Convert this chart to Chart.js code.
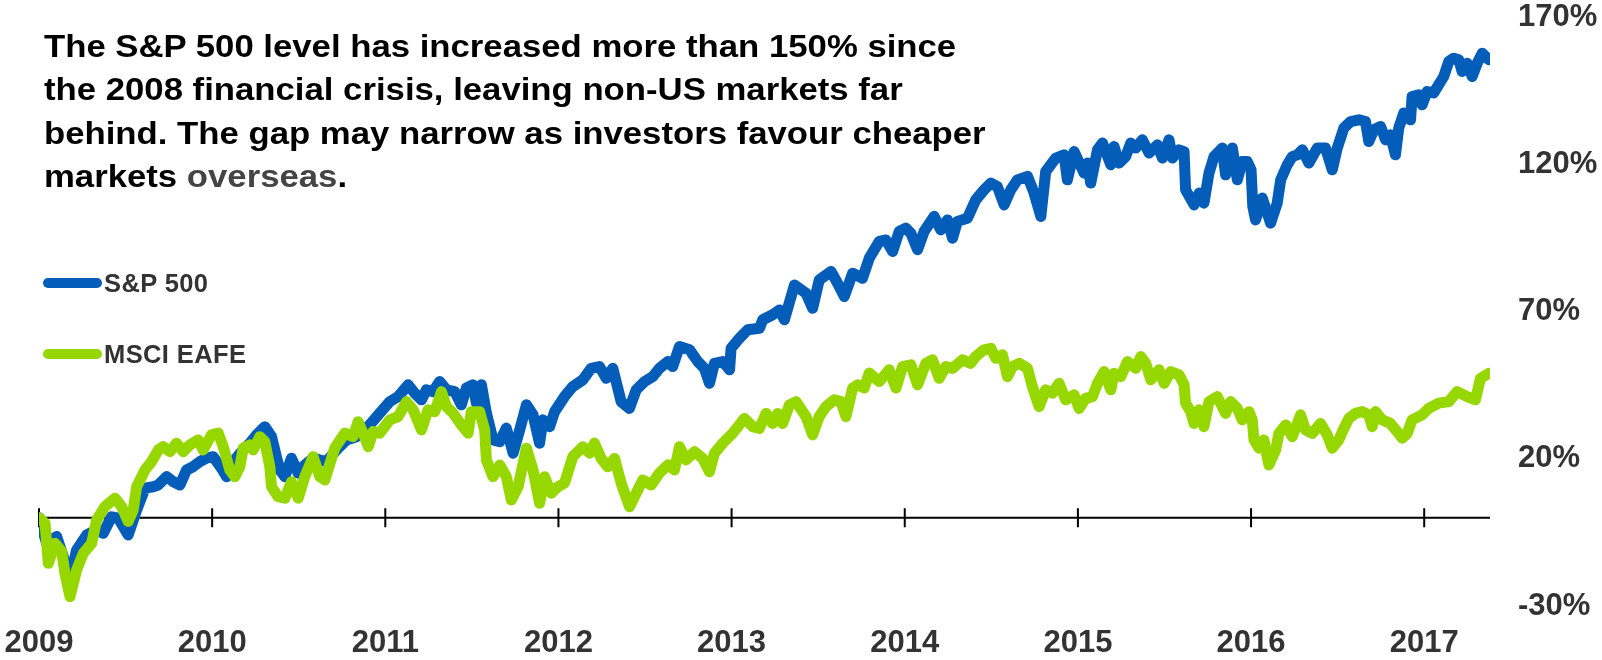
<!DOCTYPE html>
<html>
<head>
<meta charset="utf-8">
<script src="https://cdn.jsdelivr.net/npm/chart.js@4/dist/chart.umd.min.js"></script>
<style>
  html, body { margin:0; padding:0; background:#fff; }
  #wrap { position:relative; width:1602px; height:660px; font-family:"Liberation Sans", Arial, sans-serif; }
  #chart { position:absolute; left:0; top:0; }
  .headline {
    position:absolute; left:44px; top:24.7px; white-space:nowrap;
    font-weight:bold; font-size:31px; line-height:43.6px; color:#000;
    transform:scaleX(1.12); transform-origin:0 0;
  }
  .headline .muted { color:#444; }
  .key {
    position:absolute; left:43px; display:flex; align-items:center;
    font-weight:bold; font-size:25.5px; line-height:26px; letter-spacing:.4px; color:#333;
  }
  .key i { display:block; width:59px; height:10px; border-radius:5px; margin-right:2px; }
</style>
</head>
<body>
<div id="wrap">
  <canvas id="chart" width="1602" height="660"></canvas>
  <div class="headline">
    The S&amp;P 500 level has increased more than 150% since<br>
    the 2008 financial crisis, leaving non-US markets far<br>
    behind. The gap may narrow as investors favour cheaper<br>
    markets <span class="muted">overseas</span>.
  </div>
  <div class="key" style="top:270.3px"><i style="background:#035DB9"></i>S&amp;P 500</div>
  <div class="key" style="top:341.3px"><i style="background:#97D700"></i>MSCI EAFE</div>
</div>
<script>
// ── series (cumulative % change since start of 2009) ──
const spxYears = [
  2009.000,2009.044,2009.102,2009.140,2009.175,2009.217,2009.275,2009.333,2009.371,2009.419,
  2009.458,2009.515,2009.564,2009.612,2009.660,2009.689,2009.737,2009.775,2009.814,2009.852,
  2009.890,2009.929,2009.967,2010.006,2010.054,2010.083,2010.121,2010.179,2010.218,2010.256,
  2010.304,2010.343,2010.371,2010.391,2010.420,2010.458,2010.497,2010.535,2010.583,2010.660,
  2010.718,2010.776,2010.833,2010.910,2010.968,2011.026,2011.074,2011.132,2011.170,2011.209,
  2011.237,2011.276,2011.314,2011.353,2011.401,2011.439,2011.468,2011.507,2011.526,2011.555,
  2011.584,2011.622,2011.661,2011.699,2011.738,2011.776,2011.815,2011.853,2011.891,2011.910,
  2011.949,2011.978,2012.035,2012.083,2012.141,2012.189,2012.237,2012.276,2012.314,2012.362,
  2012.410,2012.449,2012.497,2012.545,2012.583,2012.632,2012.660,2012.699,2012.757,2012.805,
  2012.843,2012.872,2012.901,2012.949,2012.988,2012.997,2013.045,2013.093,2013.161,2013.180,
  2013.237,2013.276,2013.305,2013.363,2013.430,2013.468,2013.506,2013.574,2013.612,2013.651,
  2013.699,2013.756,2013.795,2013.853,2013.891,2013.930,2013.968,2014.006,2014.035,2014.074,
  2014.112,2014.170,2014.208,2014.247,2014.276,2014.304,2014.362,2014.410,2014.458,2014.497,
  2014.535,2014.574,2014.612,2014.651,2014.709,2014.747,2014.786,2014.814,2014.872,2014.920,
  2014.939,2014.978,2015.036,2015.055,2015.074,2015.113,2015.142,2015.190,2015.209,2015.238,
  2015.276,2015.305,2015.334,2015.372,2015.411,2015.459,2015.488,2015.526,2015.546,2015.584,
  2015.613,2015.622,2015.671,2015.700,2015.728,2015.757,2015.786,2015.834,2015.853,2015.892,
  2015.921,2015.949,2015.978,2016.000,2016.010,2016.026,2016.065,2016.113,2016.151,2016.171,
  2016.209,2016.238,2016.267,2016.296,2016.334,2016.382,2016.430,2016.469,2016.498,2016.536,
  2016.575,2016.623,2016.661,2016.680,2016.709,2016.748,2016.777,2016.805,2016.834,2016.853,
  2016.882,2016.921,2016.930,2016.969,2016.988,2017.017,2017.055,2017.084,2017.113,2017.142,
  2017.171,2017.200,2017.219,2017.248,2017.277,2017.306,2017.335,2017.373
];
const spxValues = [
  0,-8.7,-6.4,-13.2,-22.0,-11.0,-5.9,-4.2,-5.3,0.3,
  -0.2,-5.9,2.6,10.0,10.5,11.1,13.9,12.2,11.1,16.2,
  17.3,19.0,20.2,20.7,16.8,13.9,19.0,23.0,25.3,28.1,
  30.9,27.5,20.7,16.2,13.9,20.2,15.1,17.9,20.2,19.0,
  23.0,26.4,27.5,31.5,35.5,39.4,41.1,45.1,42.3,40.0,
  43.4,42.8,46.2,43.4,42.8,38.3,44.0,45.1,38.8,45.1,
  35.5,26.4,25.8,30.4,21.9,29.8,38.3,34.9,25.3,33.2,
  30.9,36.0,41.1,44.5,46.8,50.7,51.3,47.3,50.7,39.4,
  37.1,43.4,46.2,47.9,50.7,53.0,51.3,58.1,57.0,53.0,
  50.7,45.6,52.4,53.0,50.2,57.5,60.9,63.8,64.3,67.2,
  68.9,70.5,67.2,79.0,76.2,71.1,80.7,83.6,79.6,75.1,
  83.0,81.3,88.1,93.8,94.3,90.4,97.2,98.3,96.6,91.0,
  97.2,102.3,97.7,101.1,94.9,100.6,101.7,107.9,111.3,113.6,
  112.4,106.2,111.3,114.7,115.9,110.2,102.3,117.5,122.1,123.2,
  114.7,124.3,117.0,120.4,113.6,124.9,127.2,119.8,126.0,120.4,
  122.6,127.2,125.5,128.3,123.8,126.6,122.1,128.3,122.1,124.9,
  124.3,111.3,106.2,110.2,106.8,117.0,122.6,125.5,116.4,125.5,
  114.7,120.9,120.9,118.1,105.7,101.1,108.5,100.0,106.8,114.7,
  119.8,122.6,123.2,124.9,120.4,125.5,125.5,118.1,125.5,132.3,
  134.5,135.1,134.5,127.7,131.7,132.8,128.3,130.0,123.2,132.3,
  137.4,135.1,143.0,143.6,140.2,144.7,144.2,147.0,149.8,154.9,
  156.0,155.5,151.5,154.3,149.8,154.3,157.7,155.5
];
const eafeYears = [
  2009.000,2009.035,2009.054,2009.092,2009.131,2009.150,2009.179,2009.217,2009.256,2009.304,
  2009.333,2009.381,2009.439,2009.477,2009.515,2009.544,2009.564,2009.612,2009.650,2009.689,
  2009.717,2009.756,2009.794,2009.833,2009.871,2009.919,2009.948,2009.996,2010.035,2010.064,
  2010.102,2010.131,2010.160,2010.179,2010.218,2010.237,2010.275,2010.304,2010.333,2010.343,
  2010.381,2010.420,2010.458,2010.497,2010.535,2010.583,2010.622,2010.651,2010.708,2010.766,
  2010.814,2010.843,2010.872,2010.901,2010.930,2010.968,2011.026,2011.074,2011.122,2011.161,
  2011.209,2011.247,2011.286,2011.324,2011.353,2011.391,2011.439,2011.478,2011.497,2011.545,
  2011.574,2011.584,2011.622,2011.661,2011.699,2011.728,2011.767,2011.815,2011.853,2011.891,
  2011.920,2011.958,2011.997,2012.035,2012.083,2012.141,2012.180,2012.208,2012.247,2012.285,
  2012.324,2012.362,2012.410,2012.449,2012.487,2012.535,2012.583,2012.632,2012.670,2012.699,
  2012.737,2012.786,2012.834,2012.872,2012.901,2012.949,2013.007,2013.074,2013.122,2013.161,
  2013.199,2013.237,2013.266,2013.295,2013.334,2013.372,2013.430,2013.468,2013.506,2013.545,
  2013.593,2013.632,2013.660,2013.699,2013.728,2013.766,2013.795,2013.853,2013.910,2013.949,
  2013.987,2014.035,2014.074,2014.122,2014.160,2014.199,2014.237,2014.276,2014.333,2014.381,
  2014.410,2014.458,2014.497,2014.526,2014.564,2014.593,2014.622,2014.660,2014.709,2014.737,
  2014.776,2014.814,2014.853,2014.891,2014.930,2014.978,2015.007,2015.045,2015.084,2015.113,
  2015.151,2015.190,2015.209,2015.248,2015.286,2015.334,2015.363,2015.392,2015.421,2015.469,
  2015.498,2015.536,2015.584,2015.613,2015.622,2015.651,2015.671,2015.700,2015.728,2015.757,
  2015.805,2015.853,2015.882,2015.921,2015.949,2015.988,2016.007,2016.017,2016.046,2016.074,
  2016.103,2016.142,2016.161,2016.200,2016.238,2016.286,2016.315,2016.353,2016.401,2016.440,
  2016.469,2016.507,2016.536,2016.565,2016.603,2016.642,2016.680,2016.700,2016.719,2016.757,
  2016.805,2016.844,2016.873,2016.902,2016.930,2016.988,2017.026,2017.084,2017.142,2017.190,
  2017.248,2017.296,2017.325,2017.373
];
const eafeValues = [
  0,-1.9,-15.5,-8.7,-11.5,-18.9,-26.8,-17.8,-12.1,-8.7,
  -0.8,3.8,6.6,3.8,-1.3,2.6,10.5,16.2,19.0,23.0,
  24.1,22.4,25.3,22.4,24.7,26.4,23.0,28.1,28.7,24.1,
  16.2,13.9,17.3,23.6,24.7,23.0,27.5,25.8,17.3,10.5,
  7.1,6.6,12.2,6.6,13.9,20.7,13.9,12.8,23.6,28.7,
  27.5,32.6,28.7,24.1,29.2,28.7,33.2,34.3,39.4,36.6,
  29.8,36.6,36.0,42.8,37.7,35.5,31.5,28.7,36.0,36.0,
  29.8,19.6,13.9,17.9,13.9,6.0,10.5,23.6,16.2,4.9,
  13.9,8.3,10.5,11.7,20.7,24.1,21.9,25.3,20.1,17.3,
  20.1,11.7,3.7,8.3,12.8,11.1,15.1,17.9,16.2,24.1,
  19.6,22.4,20.1,15.6,21.9,25.3,28.7,33.7,30.9,30.3,
  35.4,32.0,35.4,32.0,38.3,39.4,34.3,28.1,34.3,37.7,
  40.0,39.4,34.3,44.0,45.1,44.0,49.1,46.2,50.2,44.0,
  51.3,51.9,45.1,52.4,53.6,47.3,51.3,50.7,53.6,52.4,
  54.7,57.0,57.5,54.1,55.3,47.9,51.3,52.4,50.7,44.5,
  37.7,43.4,42.3,45.6,40.0,41.7,37.1,40.5,41.1,45.6,
  49.6,43.4,49.0,47.9,53.0,50.7,54.7,52.4,46.8,50.2,
  45.6,49.6,48.5,45.1,38.9,36.0,32.0,36.6,30.9,39.4,
  41.1,35.4,39.4,37.1,33.2,36.0,33.2,26.4,23.6,26.4,
  17.9,23.0,28.6,31.5,27.5,34.9,29.8,28.6,32.0,28.1,
  23.6,26.4,30.3,33.7,35.4,36.0,34.9,30.9,36.0,33.2,
  32.0,29.2,27.0,28.6,33.2,34.9,37.1,38.9,39.4,42.8,
  41.1,40.0,47.3,49.0
];
const yearTicks = [2009, 2010, 2011, 2012, 2013, 2014, 2015, 2016, 2017];
const pctTicks  = [-30, 20, 70, 120, 170];

const FONT = "'Liberation Sans', Arial, sans-serif";
const toPoints = (xs, ys) => xs.map((x, i) => ({ x, y: ys[i] }));

// black zero line with a tick at every year, drawn under the series
const zeroAxis = {
  id: "zeroAxis",
  beforeDatasetsDraw(chart) {
    const { ctx, chartArea, scales: { x, y } } = chart;
    const y0 = y.getPixelForValue(0);
    ctx.save();
    ctx.strokeStyle = "#000";
    ctx.lineWidth = 2;
    ctx.beginPath();
    ctx.moveTo(chartArea.left, y0);
    ctx.lineTo(chartArea.right, y0);
    x.ticks.forEach(t => {
      const px = x.getPixelForValue(t.value);
      ctx.moveTo(px, y0 - 9.5);
      ctx.lineTo(px, y0 + 9.5);
    });
    ctx.stroke();
    ctx.restore();
  },
};

new Chart(document.getElementById("chart"), {
  type: "line",
  data: {
    datasets: [
      { label: "S&P 500",   data: toPoints(spxYears, spxValues),   borderColor: "#035DB9", order: 1 },
      { label: "MSCI EAFE", data: toPoints(eafeYears, eafeValues), borderColor: "#97D700", order: 0 },
    ],
  },
  options: {
    responsive: false,
    devicePixelRatio: 1,
    animation: false,
    layout: { padding: { left: 39, top: 17, right: 0, bottom: 0 } },
    elements: {
      line:  { borderWidth: 11, tension: 0, borderJoinStyle: "round", borderCapStyle: "round", fill: false },
      point: { radius: 0, hoverRadius: 0 },
    },
    plugins: { legend: { display: false }, tooltip: { enabled: false } },
    scales: {
      x: {
        type: "linear", min: 2009, max: 2017.38,
        afterBuildTicks: s => { s.ticks = yearTicks.map(v => ({ value: v })); },
        afterFit: s => { s.height = 54; s.paddingLeft = 0; s.paddingRight = 0; },
        grid: { display: false, drawTicks: false },
        border: { display: false },
        ticks: {
          padding: 19, autoSkip: false, maxRotation: 0, color: "#333",
          font: { family: FONT, size: 31, weight: "bold" },
          callback: v => String(v),
        },
      },
      y: {
        type: "linear", position: "right", min: -30, max: 170,
        afterBuildTicks: s => { s.ticks = pctTicks.map(v => ({ value: v })); },
        afterFit: s => { s.width = 112; s.paddingTop = 0; s.paddingBottom = 0; },
        grid: { display: false, drawTicks: false },
        border: { display: false },
        ticks: {
          padding: 28, crossAlign: "near", color: "#333",
          font: { family: FONT, size: 31, weight: "bold", lineHeight: 1.1 },
          callback: v => v + "%",
        },
      },
    },
  },
  plugins: [zeroAxis],
});
</script>
</body>
</html>
